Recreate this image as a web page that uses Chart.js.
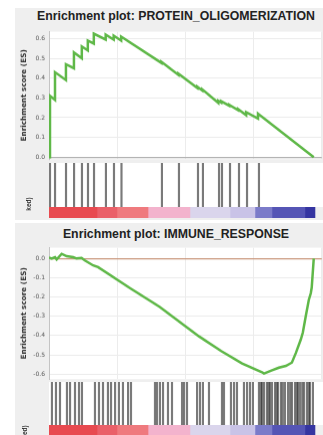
<!DOCTYPE html>
<html lang="en">
  <head>
    <meta charset="UTF-8" />
    <script src="https://cdn.jsdelivr.net/npm/chart.js"></script>
    <style>
      body {
        margin: 0;
        width: 323px;
        height: 435px;
        position: relative;
        overflow: hidden;
        background: #fff;
        font-family: "Liberation Sans", sans-serif;
      }
      .panel {
        position: absolute;
        left: 15px;
        width: 308px;
        height: 212px;
        background: #efefef;
      }
      .title {
        position: absolute;
        left: 15px;
        width: 322px;
        text-align: center;
        font-weight: bold;
        font-size: 12.3px;
        color: #222;
      }
      .box {
        position: absolute;
        left: 0;
        width: 323px;
      }
      .cut {
        position: absolute;
        width: 18px;
        height: 8px;
        line-height: 8px;
        font-size: 6.5px;
        font-weight: bold;
        color: #333;
        text-align: center;
        transform: rotate(-90deg);
      }
    </style>
  </head>
  <body>
    <div class="panel" style="top: 8px"></div>
    <div class="panel" style="top: 223px"></div>

    <div class="title" style="top: 9px">Enrichment plot: PROTEIN_OLIGOMERIZATION</div>
    <div class="title" style="top: 227px">Enrichment plot: IMMUNE_RESPONSE</div>

    <div class="box" style="top: 24.4px; height: 141.8px"><canvas id="es1"></canvas></div>
    <div class="box" style="top: 158px; height: 49px"><canvas id="hits1"></canvas></div>
    <div class="box" style="top: 207px; height: 11px"><canvas id="bar1"></canvas></div>

    <div class="box" style="top: 240.4px; height: 145.8px"><canvas id="es2"></canvas></div>
    <div class="box" style="top: 380px; height: 45px"><canvas id="hits2"></canvas></div>
    <div class="box" style="top: 425px; height: 11px"><canvas id="bar2"></canvas></div>

    <div class="cut" style="left: 20px; top: 200px">ked)</div>
    <div class="cut" style="left: 16px; top: 428px">ked)</div>

    <script>
      // gene list ranks (x axis), 0 .. xMax
      const xMax = 20450;

      // PROTEIN_OLIGOMERIZATION running enrichment score
      const esRank1 = [0, 75, 75, 450, 450, 1270, 1270, 1870, 1870, 2460, 2460, 2910, 2910, 3360, 3360,
        4250, 4250, 4850, 4850, 5410, 5410, 8430, 8430, 9700, 9700, 11120, 11120, 11490, 11490,
        12690, 12690, 12910, 12910, 13510, 13510, 14180, 14180, 14780, 14780, 15670, 15670, 19850];
      const esScore1 = [0, 0, 0.31, 0.29, 0.43, 0.39, 0.47, 0.45, 0.53, 0.50, 0.56, 0.54, 0.59, 0.575, 0.625,
        0.595, 0.62, 0.595, 0.615, 0.59, 0.61, 0.477, 0.483, 0.417, 0.423, 0.35, 0.356, 0.337, 0.343,
        0.275, 0.285, 0.276, 0.283, 0.26, 0.265, 0.238, 0.243, 0.213, 0.228, 0.195, 0.22, 0];
      const hits1 = [75, 450, 1270, 1870, 2460, 2910, 3360, 4250, 4850, 5410, 8430, 9700, 11120, 11490,
        12690, 12910, 13510, 14180, 14780, 15670];
      const yTicks1 = [0, 0.1, 0.2, 0.3, 0.4, 0.5, 0.6];

      // IMMUNE_RESPONSE running enrichment score
      const esRank2 = [0, 200, 450, 575, 950, 1320, 1810, 2070, 2440, 2690, 3310, 3680, 6100, 8280,
        11270, 12910, 14480, 15970, 16120, 16720, 17240, 17760, 18210, 18510, 18880, 19030, 19250,
        19480, 19630, 19700, 19850];
      const esScore2 = [0.005, 0.0, 0.007, -0.005, 0.024, 0.012, 0.007, 0.0, 0.003, -0.01, -0.036, -0.045,
        -0.155, -0.25, -0.405, -0.48, -0.545, -0.59, -0.597, -0.58, -0.566, -0.557, -0.54, -0.49,
        -0.42, -0.385, -0.30, -0.215, -0.18, -0.15, 0.0];
      const hits2 = [220, 520, 820, 1340, 1570, 1940, 2240, 2460, 3430, 3730, 4030, 4400, 4630, 4930,
        5220, 5520, 5900, 6120, 7910, 8060, 8280, 8510, 8880, 9180, 9930, 10080, 10300, 11050, 11270,
        11490, 11940, 12910, 13060, 13580, 13810, 14030, 14550, 14780, 15000, 15220, 15670, 15820,
        15900, 16050, 16270, 16400, 16490, 16640, 16870, 17000, 17090, 17310, 17450, 17610, 17840,
        18000, 18130, 18360, 18500, 18580, 18730, 18900, 19030, 19250, 19400, 19480, 19700];
      const yTicks2 = [-0.6, -0.5, -0.4, -0.3, -0.2, -0.1, 0];

      // ranked list colour strip
      const stripEdges = [0, 3580, 5070, 7390, 10520, 13510, 15370, 16640, 19100, 19850];
      const stripColors = ["#e84a50", "#ea6069", "#ef7a7e", "#f3b3cd", "#dad5ec", "#c9c3e7",
        "#7b7bc9", "#5555b5", "#3535a1"];

      const whiteArea = {
        id: "whiteArea",
        beforeDraw(chart) {
          const { ctx, chartArea: a } = chart;
          ctx.save();
          ctx.fillStyle = "#fff";
          ctx.fillRect(a.left, a.top, a.right - a.left, a.bottom - a.top);
          ctx.restore();
        },
      };

      const noPlugins = { legend: { display: false }, tooltip: { enabled: false } };

      function xScale(showGrid) {
        return {
          type: "linear",
          min: 0,
          max: xMax,
          offset: false,
          display: showGrid,
          afterFit: (s) => {
            s.height = 0;
          },
          border: { display: false },
          grid: { color: "#ececec", drawTicks: false, offset: false },
          ticks: { display: false, stepSize: 5000 },
        };
      }

      function esChart(id, ranks, scores, ticks, yMin, yMax, zeroColor) {
        new Chart(document.getElementById(id), {
          type: "line",
          data: {
            datasets: [
              {
                data: ranks.map((r, i) => ({ x: r, y: scores[i] })),
                borderColor: "#5fb848",
                borderWidth: 2.5,
                pointRadius: 0,
                tension: 0,
              },
            ],
          },
          options: {
            responsive: true,
            maintainAspectRatio: false,
            animation: false,
            layout: { padding: { top: 6, bottom: 2, left: 20, right: 0 } },
            plugins: noPlugins,
            scales: {
              x: xScale(true),
              y: {
                min: yMin,
                max: yMax,
                afterBuildTicks: (s) => {
                  s.ticks = ticks.map((v) => ({ value: v }));
                },
                afterFit: (s) => {
                  s.width = 29;
                },
                border: { color: "#c4c4c4" },
                grid: {
                  drawTicks: false,
                  color: (c) => (c.tick && c.tick.value === 0 ? zeroColor : "#ececec"),
                  lineWidth: (c) => (c.tick && c.tick.value === 0 ? 1.2 : 1),
                },
                ticks: {
                  padding: 4,
                  color: "#555",
                  font: { size: 6, family: "DejaVu Sans" },
                  callback: (v) => v.toFixed(1),
                },
                title: {
                  display: true,
                  text: "Enrichment score (ES)",
                  color: "#333",
                  padding: { top: 0, bottom: 2 },
                  font: { size: 7.3, weight: "bold", family: "DejaVu Sans" },
                },
              },
            },
          },
          plugins: [whiteArea],
        });
      }

      function hitChart(id, hits, padTop) {
        new Chart(document.getElementById(id), {
          type: "bar",
          data: {
            datasets: [
              {
                data: hits.map((h) => ({ x: h, y: 1 })),
                backgroundColor: "rgba(40,40,40,0.62)",
                barThickness: 1.5,
              },
            ],
          },
          options: {
            responsive: true,
            maintainAspectRatio: false,
            animation: false,
            layout: { padding: { top: padTop, bottom: 0, left: 49, right: 0 } },
            plugins: noPlugins,
            scales: {
              x: xScale(false),
              y: { min: 0, max: 1, display: false },
            },
          },
          plugins: [whiteArea],
        });
      }

      function stripChart(id) {
        new Chart(document.getElementById(id), {
          type: "bar",
          data: {
            labels: ["metric"],
            datasets: stripColors.map((c, i) => ({
              data: [[stripEdges[i], stripEdges[i + 1]]],
              backgroundColor: c,
              barPercentage: 1,
              categoryPercentage: 1,
              grouped: false,
            })),
          },
          options: {
            indexAxis: "y",
            responsive: true,
            maintainAspectRatio: false,
            animation: false,
            layout: { padding: { left: 49, right: 0 } },
            plugins: noPlugins,
            scales: {
              x: xScale(false),
              y: { display: false },
            },
          },
        });
      }

      esChart("es1", esRank1, esScore1, yTicks1, -0.01, 0.635, "#b4b4b4");
      hitChart("hits1", hits1, 5);
      stripChart("bar1");

      esChart("es2", esRank2, esScore2, yTicks2, -0.626, 0.056, "#c9977c");
      hitChart("hits2", hits2, 2);
      stripChart("bar2");
    </script>
  </body>
</html>
